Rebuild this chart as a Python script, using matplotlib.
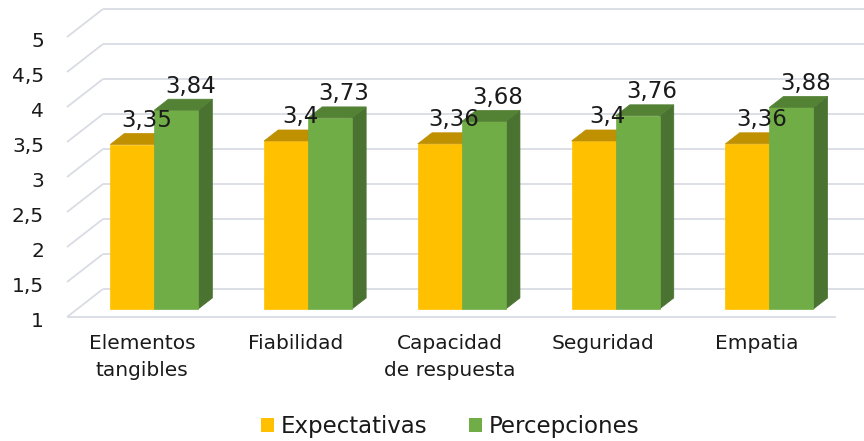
import matplotlib
matplotlib.use("Agg")
import matplotlib.pyplot as plt
from matplotlib.patches import Polygon, Patch

categories = ["Elementos\ntangibles", "Fiabilidad", "Capacidad\nde respuesta", "Seguridad", "Empatia"]
expectativas = [3.35, 3.4, 3.36, 3.4, 3.36]
percepciones = [3.84, 3.73, 3.68, 3.76, 3.88]
yticks = [1, 1.5, 2, 2.5, 3, 3.5, 4, 4.5, 5]
series_names = ["Expectativas", "Percepciones"]

YEL_FRONT, YEL_TOP, YEL_SIDE = "#FFC000", "#BF9000", "#A67C00"
GRN_FRONT, GRN_TOP, GRN_SIDE = "#70AD47", "#548235", "#4A7230"
GRID = "#D9DCE3"
TXT = "#1a1a1a"

W, H = 864, 441
fig = plt.figure(figsize=(W / 100, H / 100), dpi=100)
ax = fig.add_axes([0, 0, 1, 1])
ax.set_xlim(-0.9356, 4.682)
ax.set_ylim(-0.7714, 5.529)
ax.axis("off")

DX, DY = 0.234, 0.4        # full depth vector in data units
F0, F1 = 0.286, 0.68       # bar depth span
BW = 0.286                 # bar width
XL, XR = -0.5, len(categories) - 0.5
BASE = yticks[0]


def P(x, y, d):
    return (x + d * DX, y + d * DY)


# walls / gridlines
for v in yticks:
    ax.plot(*zip(P(XL, v, 0), P(XL, v, 1)), color=GRID, lw=1.3, zorder=1, solid_capstyle="butt")
    ax.plot(*zip(P(XL, v, 1), P(XR, v, 1)), color=GRID, lw=1.3, zorder=1, solid_capstyle="butt")
ax.plot(*zip(P(XL, BASE, 0), P(XR, BASE, 0)), color=GRID, lw=1.3, zorder=1, solid_capstyle="butt")


def bar3d(x0, x1, v, front, top, side, z):
    f = [P(x0, BASE, F0), P(x1, BASE, F0), P(x1, v, F0), P(x0, v, F0)]
    t = [P(x0, v, F0), P(x1, v, F0), P(x1, v, F1), P(x0, v, F1)]
    s = [P(x1, BASE, F0), P(x1, BASE, F1), P(x1, v, F1), P(x1, v, F0)]
    ax.add_patch(Polygon(s, closed=True, fc=side, ec=side, lw=0.5, zorder=z))
    ax.add_patch(Polygon(f, closed=True, fc=front, ec=front, lw=0.5, zorder=z))
    ax.add_patch(Polygon(t, closed=True, fc=top, ec=top, lw=0.5, zorder=z))


def fmt(v):
    return f"{v:g}".replace(".", ",")


for i, (e, p) in enumerate(zip(expectativas, percepciones)):
    bar3d(i - BW, i, e, YEL_FRONT, YEL_TOP, YEL_SIDE, 3)
    bar3d(i, i + BW, p, GRN_FRONT, GRN_TOP, GRN_SIDE, 4)
    for xc, v in ((i - BW / 2, e), (i + BW / 2, p)):
        ax.annotate(fmt(v), xy=P(xc, v, F1), xytext=(0, 13), textcoords="offset pixels",
                    ha="center", va="center", fontsize=16.5, color=TXT, zorder=6)
    ax.annotate(categories[i], xy=P(i, BASE, 0), xytext=(-2, -17), textcoords="offset pixels",
                ha="center", va="top", fontsize=14.5, color=TXT, linespacing=1.5, multialignment="center")

for v in yticks:
    ax.annotate(fmt(v), xy=P(XL, v, 0), xytext=(-23, -4), textcoords="offset pixels",
                ha="right", va="center", fontsize=14.5, color=TXT)

handles = [Patch(fc=YEL_FRONT, ec="none"), Patch(fc=GRN_FRONT, ec="none")]
fig.legend(handles, series_names, loc="center", bbox_to_anchor=(450 / W, 1 - 427 / H), ncol=2,
           frameon=False, fontsize=16.5, handlelength=0.57, handleheight=0.57,
           handletextpad=0.3, columnspacing=1.8, labelcolor=TXT)

fig.savefig("out.png", dpi=100)
